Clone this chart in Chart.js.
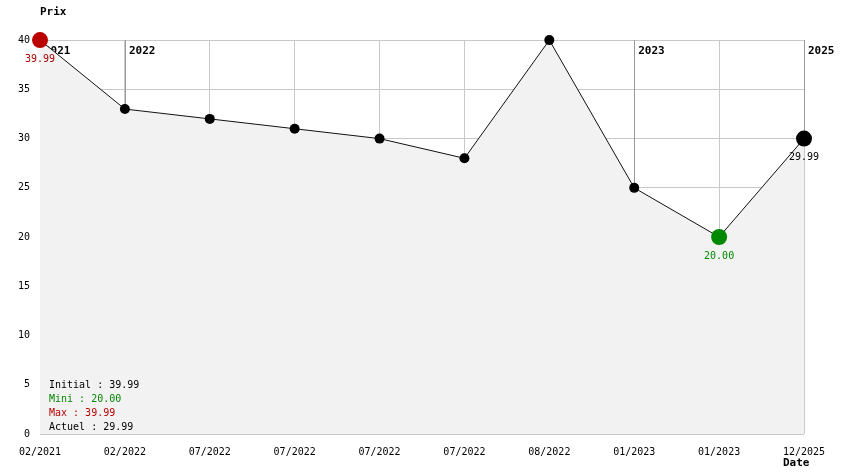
<!DOCTYPE html>
<html>
<head>
    <title>Historique des prix</title>
    <script src="https://cdn.jsdelivr.net/npm/chart.js"></script>
    <style>
        html, body { margin: 0; padding: 0; background: #fff; }
        #wrap { width: 844px; height: 474px; }
    </style>
</head>
<body>
<div id="wrap"><canvas id="priceChart" width="844" height="474"></canvas></div>
<script>
    const dates = ['02/2021', '02/2022', '07/2022', '07/2022', '07/2022', '07/2022', '08/2022', '01/2023', '01/2023', '12/2025'];
    const prices = [39.99, 32.99, 31.99, 30.99, 29.99, 27.99, 39.99, 24.99, 20.00, 29.99];
    const yTicks = [0, 5, 10, 15, 20, 25, 30, 35, 40];

    const FONT = '"DejaVu Sans Mono", monospace';
    const initial = prices[0];
    const actuel = prices[prices.length - 1];
    const mini = Math.min(...prices);
    const maxi = Math.max(...prices);
    const iMin = prices.indexOf(mini);
    const iMax = prices.indexOf(maxi);
    const iLast = prices.length - 1;

    const pointColors = prices.map((p, i) => {
        if (i === iMin) return '#008800';
        if (i === iMax) return '#bb0000';
        return '#000';
    });
    const pointSizes = prices.map((p, i) => (i === iMin || i === iMax || i === iLast) ? 8 : 5);

    // lines + labels for each year change, drawn under the dataset
    const yearMarks = {
        id: 'yearMarks',
        beforeDatasetsDraw(chart) {
            const ctx = chart.ctx;
            const area = chart.chartArea;
            const meta = chart.getDatasetMeta(0);
            ctx.save();
            let prevYear = null;
            dates.forEach((d, i) => {
                const year = d.split('/')[1];
                if (year !== prevYear) {
                    const pt = meta.data[i];
                    ctx.strokeStyle = '#999';
                    ctx.lineWidth = 1;
                    ctx.beginPath();
                    ctx.moveTo(Math.round(pt.x) + 0.5, area.top);
                    ctx.lineTo(Math.round(pt.x) + 0.5, pt.y);
                    ctx.stroke();
                    ctx.fillStyle = '#000';
                    ctx.font = 'bold 11px ' + FONT;
                    ctx.textAlign = 'left';
                    ctx.textBaseline = 'middle';
                    ctx.fillText(year, pt.x + 4, area.top + 11);
                }
                prevYear = year;
            });
            ctx.restore();
        },
        afterDatasetsDraw(chart) {
            const ctx = chart.ctx;
            const area = chart.chartArea;
            const meta = chart.getDatasetMeta(0);
            ctx.save();
            ctx.font = '10px ' + FONT;
            ctx.textAlign = 'center';
            ctx.textBaseline = 'middle';
            [[iMax, '#aa0000'], [iMin, '#008800'], [iLast, '#000']].forEach(([i, c]) => {
                const pt = meta.data[i];
                ctx.fillStyle = c;
                ctx.fillText(prices[i].toFixed(2), pt.x, pt.y + 19);
            });

            // summary box
            ctx.textAlign = 'left';
            const rows = [
                ['Initial : ' + initial.toFixed(2), '#000'],
                ['Mini : ' + mini.toFixed(2), '#008800'],
                ['Max : ' + maxi.toFixed(2), '#bb0000'],
                ['Actuel : ' + actuel.toFixed(2), '#000']
            ];
            rows.forEach((r, k) => {
                ctx.fillStyle = r[1];
                ctx.fillText(r[0], area.left + 9, area.bottom - 49 + k * 14);
            });

            // axis titles
            ctx.fillStyle = '#000';
            ctx.font = 'bold 11px ' + FONT;
            ctx.fillText('Prix', area.left, 12);
            ctx.fillText('Date', area.right - 21, 463);
            ctx.restore();
        }
    };

    new Chart(document.getElementById('priceChart'), {
        type: 'line',
        data: {
            labels: dates,
            datasets: [{
                data: prices,
                borderColor: '#111',
                borderWidth: 1,
                backgroundColor: '#f2f2f2',
                fill: 'origin',
                tension: 0,
                clip: false,
                pointBackgroundColor: pointColors,
                pointBorderColor: pointColors,
                pointRadius: pointSizes,
                pointBorderWidth: 0
            }]
        },
        options: {
            responsive: false,
            animation: false,
            layout: { padding: { top: 40, right: 40, left: 0, bottom: 0 } },
            plugins: {
                legend: { display: false },
                tooltip: { enabled: false }
            },
            scales: {
                x: {
                    offset: false,
                    grid: { color: '#c8c8c8', drawTicks: false },
                    border: { display: false },
                    ticks: {
                        color: '#000',
                        font: { family: FONT, size: 10 },
                        padding: 12,
                        maxRotation: 0,
                        autoSkip: false
                    },
                    afterFit(scale) { scale.height = 40; }
                },
                y: {
                    min: 0,
                    max: 40,
                    afterBuildTicks(scale) { scale.ticks = yTicks.map(v => ({ value: v })); },
                    grid: { color: '#c8c8c8', drawTicks: false },
                    border: { display: false },
                    ticks: {
                        color: '#000',
                        font: { family: FONT, size: 10 },
                        padding: 10
                    },
                    afterFit(scale) { scale.width = 40; }
                }
            }
        },
        plugins: [yearMarks]
    });
</script>
</body>
</html>
